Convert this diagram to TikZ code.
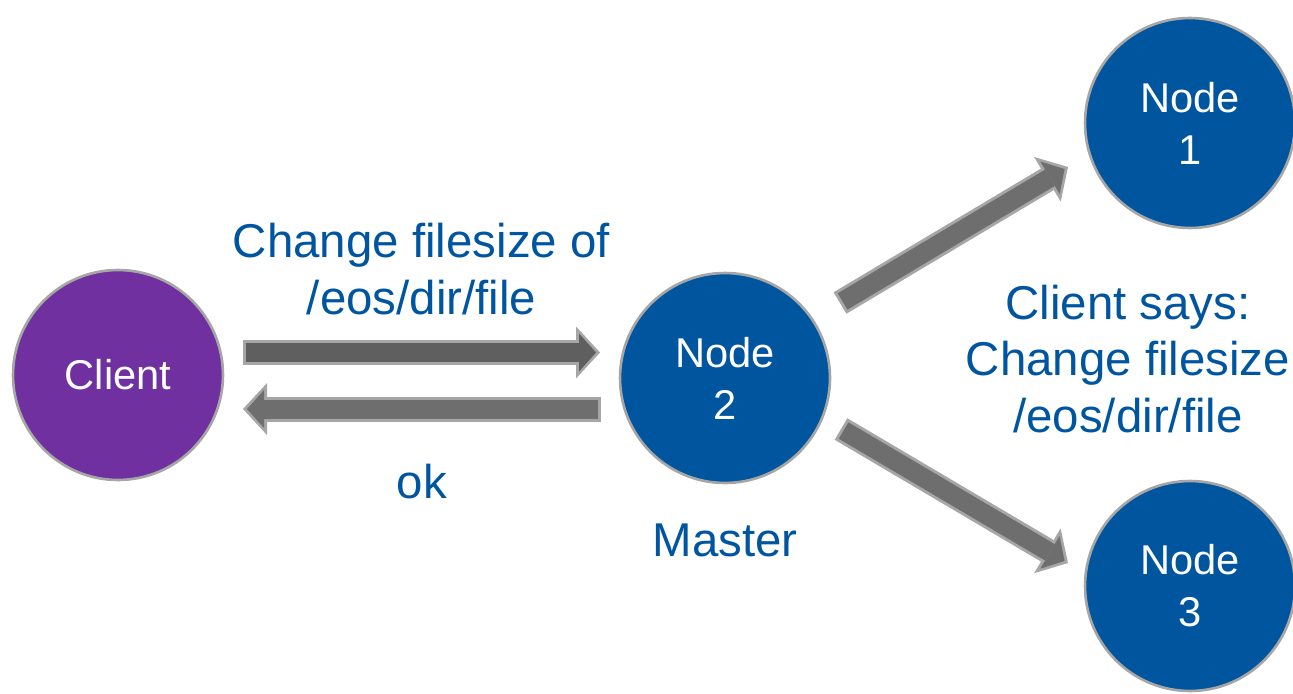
\documentclass[tikz,border=0pt]{standalone}
\usepackage{fontspec}
\setmainfont{Liberation Sans}
\usepackage{tikz}
\usetikzlibrary{arrows.meta}
\definecolor{clientpurple}{HTML}{7030A0}
\definecolor{nodeblue}{HTML}{00559F}
\definecolor{labelblue}{HTML}{0055A0}
\definecolor{rimgrey}{HTML}{A6A6A6}
\definecolor{darkshaft}{HTML}{5F5F5F}
\definecolor{shaft}{HTML}{6E6E6E}
\tikzset{
    peer/.style={circle, draw=rimgrey, line width=1.5pt, minimum size=4.2cm, inner sep=0pt,
        fill=nodeblue, text=white, align=center, font=\fontsize{23.7}{29.5}\selectfont},
    tag/.style={text=labelblue, align=center, inner sep=0pt, font=\fontsize{27}{32.3}\selectfont},
    fatarrow/.style={draw=rimgrey, line width=0.5cm,
        -{Triangle[length=0.48cm,width=1.04cm,line width=0pt]},
        postaction={draw=#1, line width=0.38cm, shorten >=0.08cm, shorten <=0.06cm,
        -{Triangle[length=0.34cm,width=0.76cm,line width=0pt]}}},
    fatarrow/.default=shaft,
}
\begin{document}
\begin{tikzpicture}[x=0.02cm, y=-0.02cm]
    \useasboundingbox (0,0) rectangle (1293,693);
    \node (client) at (118,375) [peer, fill=clientpurple] {Client};
    \node (master) at (725,378) [peer] {Node\\2};
    \node (node1) at (1190,123) [peer] {Node\\1};
    \node (node3) at (1190,586) [peer] {Node\\3};
    \node (mastertag) at (725,540) [tag] {Master};
    \node (says) at (1128,359) [tag] {Client says:\\Change filesize\\/eos/dir/file};
    \coordinate (req1) at (243,352.5);
    \coordinate (req2) at (600,352.5);
    \coordinate (ack1) at (601,409);
    \coordinate (ack2) at (243,409);
    \coordinate (up1) at (840,303);
    \coordinate (up2) at (1068,167);
    \coordinate (down1) at (841,429);
    \coordinate (down2) at (1068,563);
    \draw[fatarrow=darkshaft] (req1) to node [tag, above=0.51cm] {Change filesize of\\/eos/dir/file} (req2);
    \draw[fatarrow] (ack1) to node [tag, below=0.86cm] {ok} (ack2);
    \draw[fatarrow] (up1) to (up2);
    \draw[fatarrow] (down1) to (down2);
\end{tikzpicture}
\end{document}
